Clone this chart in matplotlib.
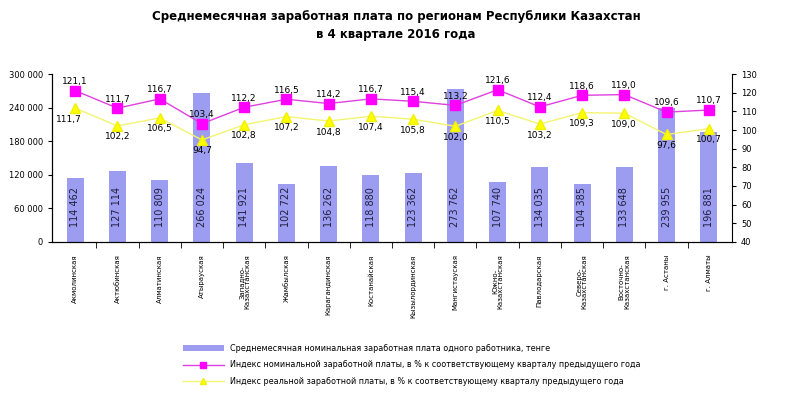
import matplotlib.pyplot as plt
from matplotlib.ticker import FuncFormatter

regions = ["Акмолинская", "Актюбинская", "Алматинская", "Атырауская",
           "Западно-\nКазахстанская", "Жамбылская", "Карагандинская", "Костанайская",
           "Кызылординская", "Мангистауская", "Южно-\nКазахстанская", "Павлодарская",
           "Северо-\nКазахстанская", "Восточно-\nКазахстанская", "г. Астаны", "г. Алматы"]
salary = [114462, 127114, 110809, 266024, 141921, 102722, 136262, 118880,
          123362, 273762, 107740, 134035, 104385, 133648, 239955, 196881]
nominal_idx = [121.1, 111.7, 116.7, 103.4, 112.2, 116.5, 114.2, 116.7,
               115.4, 113.2, 121.6, 112.4, 118.6, 119.0, 109.6, 110.7]
real_idx = [111.7, 102.2, 106.5, 94.7, 102.8, 107.2, 104.8, 107.4,
            105.8, 102.0, 110.5, 103.2, 109.3, 109.0, 97.6, 100.7]

def fmt_ru(v, digits=1):
    return f"{v:.{digits}f}".replace(".", ",")

def thousands(v, pos=None):
    return f"{int(v):,}".replace(",", " ")

fig = plt.figure(figsize=(8, 3.96), dpi=100)
ax = fig.add_axes([0.065, 0.389, 0.85, 0.424])
ax2 = ax.twinx()

x = list(range(len(regions)))
ax.bar(x, salary, width=0.4, color="#9c9cf0", zorder=1,
       label="Среднемесячная номинальная заработная плата одного работника, тенге")
# подписи значений внутри столбцов
for xi, v in zip(x, salary):
    ax.text(xi, 26000, thousands(v), rotation=90, ha="center", va="bottom",
            fontsize=7, color="#202040")

ax.set_ylim(0, 300000)
ax.set_yticks(range(0, 300001, 60000))
ax.yaxis.set_major_formatter(FuncFormatter(thousands))
ax.set_xlim(-0.55, len(regions) - 0.45)
ax.set_xticks(x)
ax.set_xticklabels(regions, rotation=90, fontsize=5, va="top", ha="center", linespacing=0.9)
ax.tick_params(axis="x", length=0, pad=9)
ax.set_xticks([i + 0.5 for i in x[:-1]], minor=True)
ax.tick_params(axis="x", which="minor", length=4, direction="out")
ax.tick_params(axis="y", labelsize=6, length=3, direction="out")

ax2.plot(x, nominal_idx, color="#e040e0", lw=1, marker="s", ms=7.5,
         mfc="#ff00ff", mec="#ff00ff", zorder=3,
         label="Индекс номинальной заработной платы, в % к соответствующему кварталу предыдущего года")
ax2.plot(x, real_idx, color="#f4f470", lw=1, marker="^", ms=7.5,
         mfc="#ffff00", mec="#f0f000", zorder=3,
         label="Индекс реальной заработной платы, в % к соответствующему кварталу предыдущего года")
for xi, v in zip(x, nominal_idx):
    ax2.text(xi, v + 2.5, fmt_ru(v), ha="center", va="bottom", fontsize=6.5)
for i, (xi, v) in enumerate(zip(x, real_idx)):
    dx = -0.15 if i == 0 else 0
    ax2.text(xi + dx, v - 3.5, fmt_ru(v), ha="center", va="top", fontsize=6.5)
ax2.set_ylim(40, 130)
ax2.set_yticks(range(40, 131, 10))
ax2.tick_params(axis="y", labelsize=6, length=3, direction="out")

for a in (ax, ax2):
    a.spines["top"].set_visible(False)
ax.spines["right"].set_visible(False)

fig.suptitle("Среднемесячная заработная плата по регионам Республики Казахстан\nв 4 квартале 2016 года",
             x=0.495, y=0.975, fontsize=8.5, fontweight="bold", linespacing=1.5)

h1, l1 = ax.get_legend_handles_labels()
h2, l2 = ax2.get_legend_handles_labels()
fig.legend(h1 + h2, l1 + l2, loc="lower left", bbox_to_anchor=(0.22, 0.008),
           frameon=False, fontsize=5.8, handlelength=5, labelspacing=0.9,
           markerscale=0.6)

fig.savefig("out.png", dpi=100)
